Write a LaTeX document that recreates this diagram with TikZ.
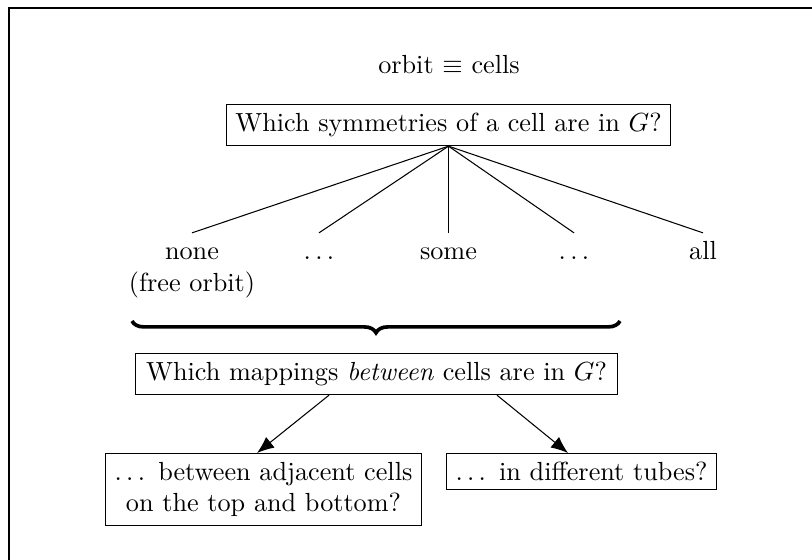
\documentclass[tikz,border=0pt]{standalone}
\usetikzlibrary{arrows.meta,calc,decorations.pathreplacing}
\begin{document}
\begin{tikzpicture}[x=0.3817pt, y=-0.3817pt,
	box/.style = {draw, thin},
	lvl/.style = {text height=1.5ex, text depth=.25ex},
	arr/.style = {-{Latex[length=6.5pt,width=5.2pt]}, thin}]
	\useasboundingbox (0,0) rectangle (812,560);
	\draw[line width=0.5pt] (9,560) -- (9,8) -- (812,8);

	\node (orbit) at (449,65) {orbit $\equiv$ cells};
	\node[box] (sym) at (448.5,125) {Which symmetries of a cell are in $G$?};

	\node[lvl] (none) at (192,252) {none};
	\node (free) at (192,285) {(free orbit)};
	\node[lvl] (dots1) at (319,252) {$\ldots$};
	\node[lvl] (some) at (448.5,252) {some};
	\node[lvl] (dots2) at (574,252) {$\ldots$};
	\node[lvl] (all) at (703,252) {all};

	\draw (sym.south) -- (none.north);
	\draw (sym.south) -- (dots1.north);
	\draw (sym.south) -- (some.north);
	\draw (sym.south) -- (dots2.north);
	\draw (sym.south) -- (all.north);

	\coordinate (bl) at (132,321);
	\coordinate (br) at (620,321);
	\draw[decorate, decoration={brace, mirror, amplitude=4.5pt}, line width=1.4pt] (bl) -- (br);

	\node[box, inner xsep=4.2pt] (map) at (376.5,374) {Which mappings \emph{between} cells are in $G$?};
	\node[box, align=center, anchor=north] (adj) at (263.5,453) {$\ldots$\, between adjacent cells\\ on the top and bottom?};
	\node[box, anchor=north] (tube) at (581.5,453) {$\ldots$\, in different tubes?};

	\draw[arr] ($(map.south)+(-47.5,0)$) -- ($(adj.north)+(-6.5,0)$);
	\draw[arr] ($(map.south)+(120.5,0)$) -- ($(tube.north)+(-13.5,0)$);
\end{tikzpicture}
\end{document}
